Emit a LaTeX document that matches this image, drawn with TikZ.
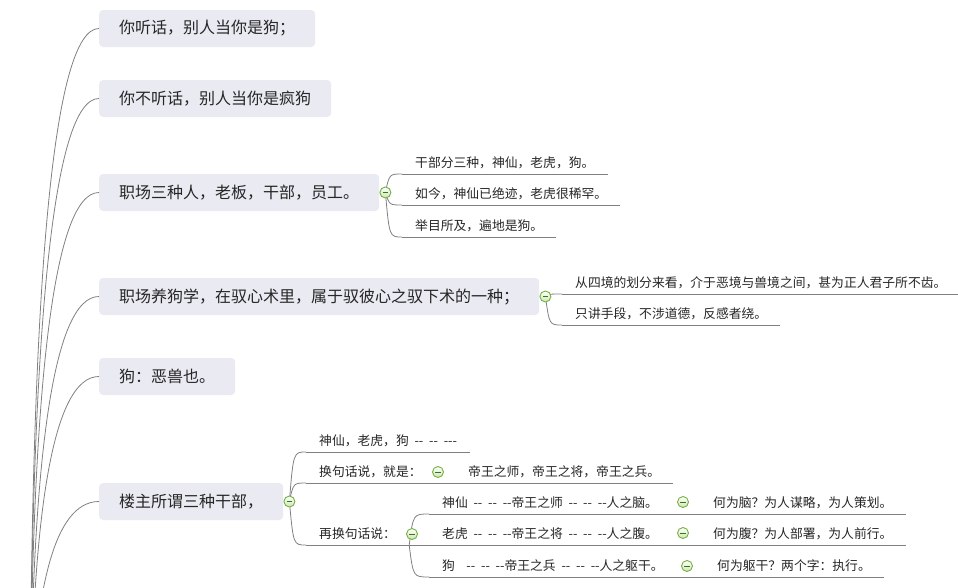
\documentclass[tikz,border=0pt]{standalone}
\usepackage{fontspec}
\usetikzlibrary{calc}
\newfontfamily\cjk[WordSpace=2]{Noto Sans CJK SC}

\definecolor{topicfill}{HTML}{E9EAF2}
\definecolor{inkgray}{HTML}{262626}
\definecolor{linkgray}{HTML}{808080}
\definecolor{foldgreen}{HTML}{74B043}
\definecolor{foldlight}{HTML}{C9E8AE}

\tikzset{
  topic/.style={fill=topicfill, rounded corners=4pt, inner xsep=20pt, inner ysep=0pt,
    minimum height=37pt, font=\cjk\fontsize{16}{16}\selectfont, text=inkgray, anchor=west},
  sub/.style={inner xsep=13pt, inner ysep=0pt, minimum height=22pt,
    font=\cjk\fontsize{12.8}{12.8}\selectfont, text=inkgray, anchor=south west},
  link/.style={draw=linkgray, line width=0.8pt},
  fold/.style={circle, draw=foldgreen, line width=0.9pt, inner sep=0pt, minimum size=11pt,
    top color=white, bottom color=foldlight,
    path picture={\draw[foldgreen!60!black, line width=1pt]
      ([xshift=-2.8pt]path picture bounding box.center) -- ([xshift=2.8pt]path picture bounding box.center);}},
}

\begin{document}
\begin{tikzpicture}[x=1pt, y=1pt]
\useasboundingbox (0,0) rectangle (958,-587);
\clip (0,0) rectangle (958,-587);

% STEP 1: the main topics, all hanging off a root below the page.
\coordinate (root) at (30,-780);
\node[topic] (t1) at (99,-28.5) {你听话，别人当你是狗；};
\node[topic] (t2) at (99,-98.5) {你不听话，别人当你是疯狗};
\node[topic] (t3) at (99,-192.5) {职场三种人，老板，干部，员工。};
\node[topic] (t4) at (99,-296.5) {职场养狗学，在驭心术里，属于驭彼心之驭下术的一种；};
\node[topic] (t5) at (99,-376.5) {狗：恶兽也。};
\node[topic] (t6) at (99,-501.5) {楼主所谓三种干部，};

% STEP 2: where the fold buttons sit.
\coordinate (f3) at ([xshift=6pt]t3.east);
\coordinate (f4) at ([xshift=6pt]t4.east);
\coordinate (f6) at ([xshift=6pt]t6.east);
\coordinate (f62) at (438,-472);
\coordinate (f63) at (412,-534);
\coordinate (f631) at (683,-502);
\coordinate (f632) at (683,-533);
\coordinate (f633) at (687,-566);

% STEP 3: the underlined sub topics.
% --- under t3 ---
\node[sub] (s31) at (402,-174) {干部分三种，神仙，老虎，狗。};
\node[sub] (s32) at (402,-205) {如今，神仙已绝迹，老虎很稀罕。};
\node[sub] (s33) at (402,-237) {举目所及，遍地是狗。};
% --- under t4 ---
\node[sub] (s41) at (562,-294) {从四境的划分来看，介于恶境与兽境之间，甚为正人君子所不齿。};
\node[sub] (s42) at (562,-325) {只讲手段，不涉道德，反感者绕。};
% --- under t6 ---
\node[sub] (s61) at (306,-452) {神仙，老虎，狗 -- -- ---};
\node[sub] (s62) at (306,-483) {换句话说，就是：};
\node[sub] (s63) at (306,-545) {再换句话说：};
\node[sub] (s621) at (455,-483) {帝王之师，帝王之将，帝王之兵。};
\node[sub] (s631) at (429,-514) {神仙 -- -- --帝王之师 -- -- --人之脑。};
\node[sub] (s632) at (429,-545) {老虎 -- -- --帝王之将 -- -- --人之腹。};
\node[sub] (s633) at (429,-577) {狗~~-- -- --帝王之兵 -- -- --人之躯干。};
\node[sub] (s6311) at (700,-514) {何为脑？为人谋略，为人策划。};
\node[sub] (s6321) at (700,-545) {何为腹？为人部署，为人前行。};
\node[sub] (s6331) at (704,-577) {何为躯干？两个字：执行。};

% STEP 4: connectors.
\foreach \t in {t1,t2,t3,t4,t5,t6}
  \draw[link] (\t.west) .. controls ($(\t.west)!2/3!(root |- \t.west)$)
    and ($(root)!2/3!(root |- \t.west)$) .. (root);
\foreach \p/\c in {f3/s31,f3/s32,f3/s33,f4/s41,f4/s42,f6/s61,f6/s62,f6/s63}
  \draw[link] (\p) .. controls ($(\p |- \c.south west)+(4,0)$) .. (\c.south west);
\foreach \p/\c in {s63/s631,s63/s632,s63/s633}
  \draw[link] (\p.south east) .. controls ($(\p.south east |- \c.south west)+(4,0)$) .. (\c.south west);
\foreach \p/\c in {s62/s621,s631/s6311,s632/s6321,s633/s6331}
  \draw[link] (\p.south east) -- (\c.south west);
\foreach \s in {s31,s32,s33,s41,s42,s61,s62,s63,s621,s631,s632,s633,s6311,s6321,s6331}
  \draw[link] (\s.south west) -- (\s.south east);

% STEP 5: fold buttons on top.
\foreach \f in {f3,f4,f6,f62,f63,f631,f632,f633}
  \node[fold] at (\f) {};

\end{tikzpicture}
\end{document}
